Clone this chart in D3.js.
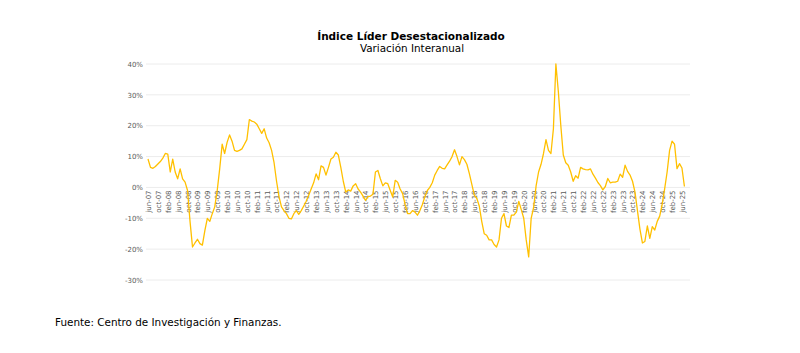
<!DOCTYPE html>
<html>
<head>
<meta charset="utf-8">
<script src="https://cdn.jsdelivr.net/npm/d3@7"></script>
<style>
  body { margin: 0; background: #fff; }
  svg { display: block; }
</style>
</head>
<body>
<div id="chart"></div>
<script>
const width = 800;
const height = 353;

// Variación interanual (%), mensual desde jun-07 hasta jul-25
const variacion = [
  9.2, 6.5, 6.2, 6.8, 7.6, 8.4, 9.5, 11, 10.8, 5, 9.2, 5,
  2.8, 6, 2.8, 1.7, -1, -11, -19.3, -18, -16.8, -18.2, -18.7, -14,
  -10, -11, -8.5, -6.3, -1, 6, 14, 11, 14.6, 17, 15, 12,
  11.7, 12, 12.5, 14, 15.5, 22, 21.5, 21.2, 20.5, 19, 17.5, 19,
  16, 14.5, 12, 8, 2, -3, -6.3, -7.5, -8.5, -10, -10.2, -8.5,
  -7.5, -8.7, -7.5, -6, -4.5, -2.5, -0.5, 1.5, 4.4, 2.5, 7, 6.5,
  4, 6.5, 9.2, 9.8, 11.4, 10.5, 6.5, 2, -1.5, -0.8, -1.2, 0.5,
  1.2, -0.5, -1.5, -2.8, -4.2, -3, -2.8, -2.2, 5, 5.5, 2.8, 0.5,
  1.5, 1.2, -1, -3.1, 2.3, 1.7, -0.5, -2, -5.5, -8.5, -8.5, -7.5,
  -8, -9, -7.5, -5.5, -3, -1, 0, 1.5, 4, 5.5, 6.8, 6.2,
  6, 7.3, 8.5, 10, 12.2, 10, 7.3, 10, 9, 7.5, 4.5, 1,
  -2.5, -3.5, -6, -11, -15, -15.5, -17, -17, -18.5, -19.3, -17, -10,
  -8.5, -12.5, -13, -9, -9, -8, -4.5, -7.2, -10, -17, -22.5, -10,
  -6.5, 0.5, 5, 7.5, 11, 15.5, 12, 11, 19, 40, 31, 20,
  10.5, 8, 7.2, 5, 2, 3.8, 3, 6.5, 6, 5.8, 5.7, 6,
  4.3, 3, 1.6, 0.6, -0.8, 0.3, 2.9, 1.5, 1.7, 1.7, 2, 4.3,
  3.3, 7.2, 5.2, 4, 2, -1.5, -7.5, -13.5, -18, -17.5, -12.5, -16.5,
  -12.7, -13.8, -11, -9.3, -5.5, -0.5, 5, 12, 15, 14, 6.1, 7.7,
  6.3, 0.3
];

const mesesAbrev = ["ene", "feb", "mar", "abr", "may", "jun", "jul", "ago", "sep", "oct", "nov", "dic"];
const mesInicial = 5;      // jun
const anioInicial = 2007;
const yTicks = [-30, -20, -10, 0, 10, 20, 30, 40];

// etiquetas de cada mes: jun-07, jul-07, ...
const meses = variacion.map((v, i) => {
  const m = (mesInicial + i) % 12;
  const a = anioInicial + Math.floor((mesInicial + i) / 12);
  return mesesAbrev[m] + "-" + String(a).slice(2);
});
const etiquetas = meses.filter((m, i) => i % 4 === 0);

const x = d3.scalePoint()
  .domain(meses)
  .range([148, 148 + 2.472 * (meses.length - 1)]);

const y = d3.scaleLinear()
  .domain([-30, 40])
  .range([280, 64]);

const svg = d3.select("#chart")
  .append("svg")
  .attr("width", width)
  .attr("height", height)
  .style("font-family", "'DejaVu Sans', Verdana, sans-serif");

// líneas de la grilla
svg.append("g")
  .selectAll("line")
  .data(yTicks)
  .enter()
  .append("line")
  .attr("x1", 146)
  .attr("x2", 690)
  .attr("y1", d => y(d))
  .attr("y2", d => y(d))
  .attr("stroke", "#ececec")
  .attr("stroke-width", 1);

// eje Y
const yAxis = svg.append("g")
  .attr("transform", "translate(143,0)")
  .call(d3.axisLeft(y).tickValues(yTicks).tickFormat(d => d + "%").tickSize(0).tickPadding(0));
yAxis.select(".domain").remove();
yAxis.selectAll("text")
  .style("font-size", "7px")
  .style("font-family", "'DejaVu Sans', Verdana, sans-serif")
  .attr("fill", "#595959");

// eje X (etiquetas verticales sobre la línea del 0%)
const xAxis = svg.append("g")
  .attr("transform", `translate(0,${y(0)})`)
  .call(d3.axisBottom(x).tickValues(etiquetas).tickSize(0));
xAxis.select(".domain").remove();
xAxis.selectAll("text")
  .attr("transform", "rotate(-90)")
  .attr("text-anchor", "end")
  .attr("x", -3)
  .attr("y", 0)
  .attr("dy", "0.35em")
  .style("font-size", "7px")
  .style("font-family", "'DejaVu Sans', Verdana, sans-serif")
  .attr("fill", "#595959");

// serie
const line = d3.line()
  .x((d, i) => x(meses[i]))
  .y(d => y(d));

svg.append("path")
  .datum(variacion)
  .attr("d", line)
  .attr("fill", "none")
  .attr("stroke", "#FFC000")
  .attr("stroke-width", 1.3)
  .attr("stroke-linejoin", "round");

// títulos
svg.append("text")
  .attr("x", 411)
  .attr("y", 40)
  .attr("text-anchor", "middle")
  .style("font-size", "10.5px")
  .style("font-weight", "bold")
  .attr("fill", "#000")
  .text("Índice Líder Desestacionalizado");

svg.append("text")
  .attr("x", 412)
  .attr("y", 52)
  .attr("text-anchor", "middle")
  .style("font-size", "10.4px")
  .attr("fill", "#000")
  .text("Variación Interanual");

svg.append("text")
  .attr("x", 55)
  .attr("y", 326)
  .style("font-size", "10.4px")
  .attr("fill", "#000")
  .text("Fuente: Centro de Investigación y Finanzas.");
</script>
</body>
</html>
